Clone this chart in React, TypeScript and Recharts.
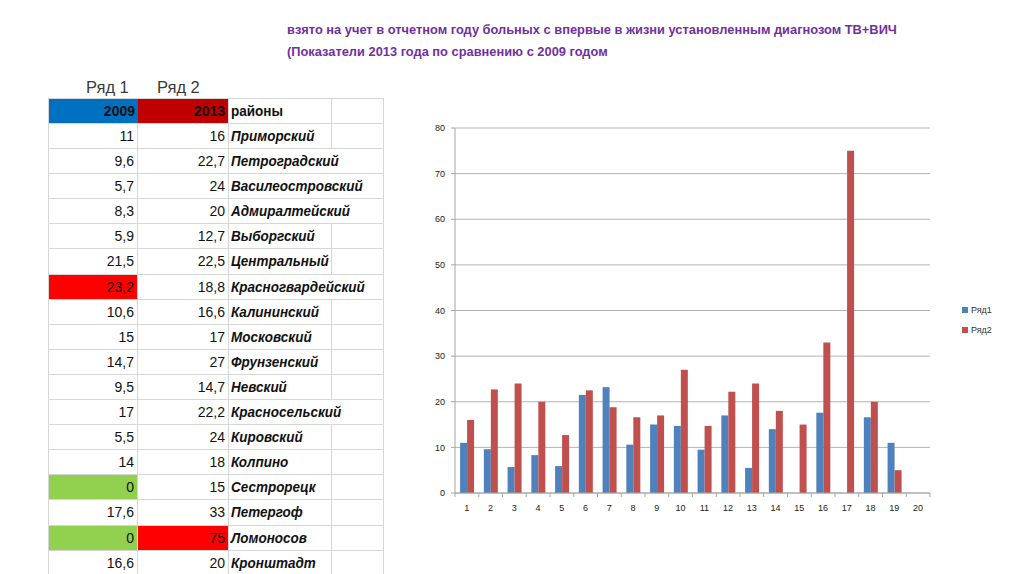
import React from "react";
import { BarChart, Bar, XAxis, YAxis, CartesianGrid, Legend } from "recharts";

const categories = ["1","2","3","4","5","6","7","8","9","10","11","12","13","14","15","16","17","18","19","20"];
const series1: (number | null)[] = [11, 9.6, 5.7, 8.3, 5.9, 21.5, 23.2, 10.6, 15, 14.7, 9.5, 17, 5.5, 14, 0, 17.6, 0, 16.6, 11, null];
const series2: (number | null)[] = [16, 22.7, 24, 20, 12.7, 22.5, 18.8, 16.6, 17, 27, 14.7, 22.2, 24, 18, 15, 33, 75, 20, 5, null];
const yTicks = [0, 10, 20, 30, 40, 50, 60, 70, 80];

const districts = ["Приморский","Петроградский","Василеостровский","Адмиралтейский","Выборгский","Центральный","Красногвардейский","Калининский","Московский","Фрунзенский","Невский","Красносельский","Кировский","Колпино","Сестрорецк","Петергоф","Ломоносов","Кронштадт"];
const col2009 = ["11","9,6","5,7","8,3","5,9","21,5","23,2","10,6","15","14,7","9,5","17","5,5","14","0","17,6","0","16,6"];
const col2013 = ["16","22,7","24","20","12,7","22,5","18,8","16,6","17","27","14,7","22,2","24","18","15","33","75","20"];
const fill2009: Record<number, string> = { 6: "#FF0000", 14: "#92D050", 16: "#92D050" };
const fill2013: Record<number, string> = { 16: "#FF0000" };

const titleLines = [
  "взято на учет в отчетном году больных с впервые в жизни установленным диагнозом ТВ+ВИЧ",
  "(Показатели 2013 года по сравнению с 2009 годом",
];

const data = categories.map((c, i) => ({ cat: c, s1: series1[i], s2: series2[i] }));

const FONT = "'Liberation Sans', Arial, sans-serif";
const GRID = "#d6d6d6";
const COLS = [89, 91, 103, 52];
const ROW_H = 25.1;

const PLOT_W = 475;
const HALF_BAND = PLOT_W / categories.length / 2;

const XTick = (props: any) => {
  const { x, y, payload, index } = props;
  const axisY = y - 12;
  return (
    <g>
      <text x={x} y={y} dy="0.71em" textAnchor="middle" fontSize={9} fill="#222" fontFamily={FONT}>
        {payload.value}
      </text>
      <line x1={x + HALF_BAND} x2={x + HALF_BAND} y1={axisY} y2={axisY + 4} stroke="#a6a6a6" />
      {index === 0 ? <line x1={x - HALF_BAND} x2={x - HALF_BAND} y1={axisY} y2={axisY + 4} stroke="#a6a6a6" /> : null}
    </g>
  );
};

const LegendContent = (props: any) => {
  const { payload } = props;
  return (
    <div style={{ fontFamily: FONT, fontSize: 9, color: "#333" }}>
      {(payload || []).map((p: any) => (
        <div key={p.value} style={{ display: "flex", alignItems: "center", height: 20 }}>
          <span style={{ width: 6, height: 6, background: p.color, display: "inline-block", marginRight: 3 }} />
          <span>{p.value}</span>
        </div>
      ))}
    </div>
  );
};

function Cell({ w, children, bg, align, style, noRight }: any) {
  return (
    <div
      style={{
        width: w,
        height: "100%",
        boxSizing: "border-box",
        borderRight: noRight ? "1px solid transparent" : `1px solid ${GRID}`,
        background: bg || "transparent",
        textAlign: align || "left",
        whiteSpace: "nowrap",
        overflow: "visible",
        position: "relative",
        paddingRight: align === "right" ? 3 : 0,
        paddingLeft: align === "right" ? 0 : 2,
        ...style,
      }}
    >
      {children}
    </div>
  );
}

const Name = ({ children }: any) => (
  <span style={{ display: "inline-block", transform: "scaleX(0.93)", transformOrigin: "left center", fontSize: 14.5 }}>{children}</span>
);

export default function App() {
  return (
    <div style={{ position: "fixed", left: 0, top: 0, width: 1024, height: 574, overflow: "hidden", background: "#fff", fontFamily: FONT }}>
      <div style={{ position: "absolute", left: 287, top: 19, color: "#7030A0", fontWeight: "bold", fontSize: 12.85, lineHeight: "22px", whiteSpace: "nowrap" }}>
        {titleLines.map((t) => (
          <div key={t}>{t}</div>
        ))}
      </div>

      <div style={{ position: "absolute", left: 86, top: 76, fontSize: 16.5, color: "#3a3a3a", lineHeight: "22px" }}>Ряд 1</div>
      <div style={{ position: "absolute", left: 157, top: 76, fontSize: 16.5, color: "#3a3a3a", lineHeight: "22px" }}>Ряд 2</div>

      <div style={{ position: "absolute", left: 48, top: 98, borderLeft: `1px solid ${GRID}`, borderTop: `1px solid ${GRID}`, fontSize: 14, color: "#111" }}>
        <div style={{ display: "flex", height: 25, lineHeight: "25px", borderBottom: `1px solid ${GRID}`, boxSizing: "border-box" }}>
          <Cell w={COLS[0]} bg="#0070C0" align="right" style={{ fontWeight: "bold", borderRight: "none" }}>2009</Cell>
          <Cell w={COLS[1]} bg="#C00000" align="right" style={{ fontWeight: "bold" }}>2013</Cell>
          <Cell w={COLS[2]} style={{ fontWeight: "bold" }}><Name>районы</Name></Cell>
          <Cell w={COLS[3]}></Cell>
        </div>
        {districts.map((d, i) => {
          const wide = d.length >= 12;
          return (
            <div key={d} style={{ display: "flex", height: ROW_H, lineHeight: `${ROW_H}px`, borderBottom: `1px solid ${GRID}`, boxSizing: "border-box" }}>
              <Cell w={COLS[0]} bg={fill2009[i]} align="right">{col2009[i]}</Cell>
              <Cell w={COLS[1]} bg={fill2013[i]} align="right">{col2013[i]}</Cell>
              <Cell w={COLS[2]} noRight={wide} style={{ fontWeight: "bold", fontStyle: "italic" }}><Name>{d}</Name></Cell>
              <Cell w={COLS[3]}></Cell>
            </div>
          );
        })}
      </div>

      <div style={{ position: "absolute", left: 400, top: 110 }}>
        <BarChart
          width={620}
          height={420}
          data={data}
          margin={{ top: 18, right: 90, left: 25, bottom: 7 }}
          barCategoryGap="21.4%"
          barGap={0}
        >
          <CartesianGrid vertical={false} stroke="#b3b3b3" strokeWidth={1} />
          <XAxis
            dataKey="cat"
            tick={<XTick />}
            tickLine={false}
            tickSize={4}
            tickMargin={8}
            height={30}
            axisLine={{ stroke: "#a6a6a6" }}
            interval={0}
          />
          <YAxis
            domain={[0, 80]}
            ticks={yTicks}
            width={30}
            tickSize={4}
            tickMargin={6}
            tick={{ fontSize: 9, fill: "#222", fontFamily: FONT }}
            tickLine={{ stroke: "#a6a6a6" }}
            axisLine={{ stroke: "#a6a6a6" }}
            interval={0}
          />
          <Legend
            layout="vertical"
            align="center"
            verticalAlign="middle"
            content={<LegendContent />}
            wrapperStyle={{ left: 562, top: 190, width: 60 }}
          />
          <Bar dataKey="s1" name="Ряд1" fill="#4F81BD" isAnimationActive={false} />
          <Bar dataKey="s2" name="Ряд2" fill="#C0504D" isAnimationActive={false} />
        </BarChart>
      </div>
    </div>
  );
}
